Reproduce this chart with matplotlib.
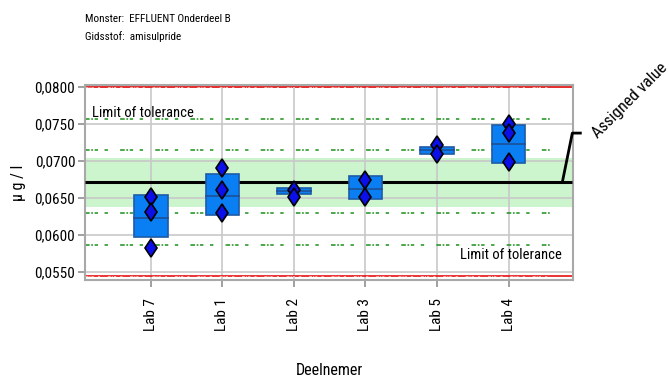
import matplotlib
matplotlib.use("Agg")
import matplotlib.pyplot as plt
from matplotlib.patches import Rectangle

plt.rcParams['font.family'] = ['Liberation Sans Narrow', 'Roboto Condensed', 'Archivo Narrow', 'DejaVu Sans']

labs = ["Lab 7", "Lab 1", "Lab 2", "Lab 3", "Lab 5", "Lab 4"]
results = [
    [0.0651, 0.0631, 0.0582],
    [0.0690, 0.0660, 0.0630],
    [0.0661, 0.0651],
    [0.0674, 0.0651],
    [0.0721, 0.0709],
    [0.0750, 0.0738, 0.0699],
]
box_low = [0.0597, 0.0627, 0.0655, 0.0648, 0.0709, 0.0697]
box_high = [0.0654, 0.0682, 0.0663, 0.0679, 0.0719, 0.0748]
box_mid = [0.0623, 0.0653, 0.0659, 0.0662, 0.0714, 0.0723]

assigned = 0.0671
band = 0.0033
sd_lines = [0.0757, 0.0714, 0.0630, 0.0586]
tolerance = [0.0800, 0.0544]
yticks = [0.0550, 0.0600, 0.0650, 0.0700, 0.0750, 0.0800]

fig = plt.figure(figsize=(6.69, 3.78), dpi=100)
ax = fig.add_axes([0.127, 0.259, 0.730, 0.516])
ax.set_xlim(-0.92, 5.906)
ax.set_ylim(0.05388, 0.08023)

# grid drawn by hand so it sits above the green band
for y in yticks:
    ax.axhline(y, color='#c8c8c8', lw=1.2, zorder=1)
for i in range(len(labs)):
    ax.axvline(i, color='#c8c8c8', lw=1.2, zorder=1)

ax.axhspan(assigned - band, assigned + band, color='#cdf5cd', lw=0, zorder=0)

green_dash = (0, (3.0, 1.1, 1.1, 1.1, 2.2, 4.3, 2.2, 8.0))
for y in sd_lines:
    ax.plot([-0.92, 5.6], [y, y], color='#1a8f1a', lw=1.1, ls=green_dash, zorder=2)
for y in tolerance:
    ax.axhline(y, color='#e81010', lw=1.2, zorder=2)
    ax.plot([-0.92, 5.6], [y, y], color='#f4b0b0', lw=0.7, ls=green_dash, zorder=2)

ax.plot([-0.92, 5.892], [assigned, assigned], color='black', lw=2.2, zorder=3,
        solid_capstyle='butt')
ax.plot([5.752, 5.892, 6.004], [assigned, 0.07374, 0.07374], color='black', lw=2.0,
        clip_on=False, zorder=3)
ax.text(6.25, 0.07300, "Assigned value", rotation=45, rotation_mode='anchor',
        ha='left', va='baseline', fontsize=12, clip_on=False)

w = 0.47
for i in range(len(labs)):
    ax.add_patch(Rectangle((i - w / 2, box_low[i]), w, box_high[i] - box_low[i],
                           facecolor='#0a7ff4', edgecolor='#1e5aa6', lw=1.2, zorder=4))
    ax.plot([i - w / 2, i + w / 2], [box_mid[i], box_mid[i]], color='#1e4f96', lw=1.2, zorder=5)
    ax.plot([i] * len(results[i]), results[i], ls='none', marker='d', ms=9.5,
            mfc='#0c10e8', mec='black', mew=1.2, zorder=6)

ax.text(-0.82, 0.0765, "Limit of tolerance", fontsize=10.5, va='center', ha='left', zorder=7)
ax.text(5.75, 0.05726, "Limit of tolerance", fontsize=10.5, va='center', ha='right', zorder=7)

ax.set_yticks(yticks)
ax.yaxis.set_major_formatter(plt.FuncFormatter(lambda v, p: ("%.4f" % v).replace('.', ',')))
ax.set_xticks(range(len(labs)))
ax.set_xticklabels(labs, rotation=90)
ax.tick_params(axis='both', length=5, color='#909090', width=1.2, labelsize=11)
ax.tick_params(axis='y', pad=2)
ax.tick_params(axis='x', pad=8)
for s in ax.spines.values():
    s.set_color('#a8a8a8')
    s.set_linewidth(1.5)

ax.set_ylabel("µ g / l", fontsize=11.5, labelpad=6)
fig.text(0.493, 0.021, "Deelnemer", ha='center', va='center', fontsize=11.5)

fig.text(0.127, 0.951, "Monster:  EFFLUENT Onderdeel B", fontsize=8, va='center')
fig.text(0.127, 0.902, "Gidsstof:  amisulpride", fontsize=8, va='center')

fig.savefig("out.png", dpi=100)
